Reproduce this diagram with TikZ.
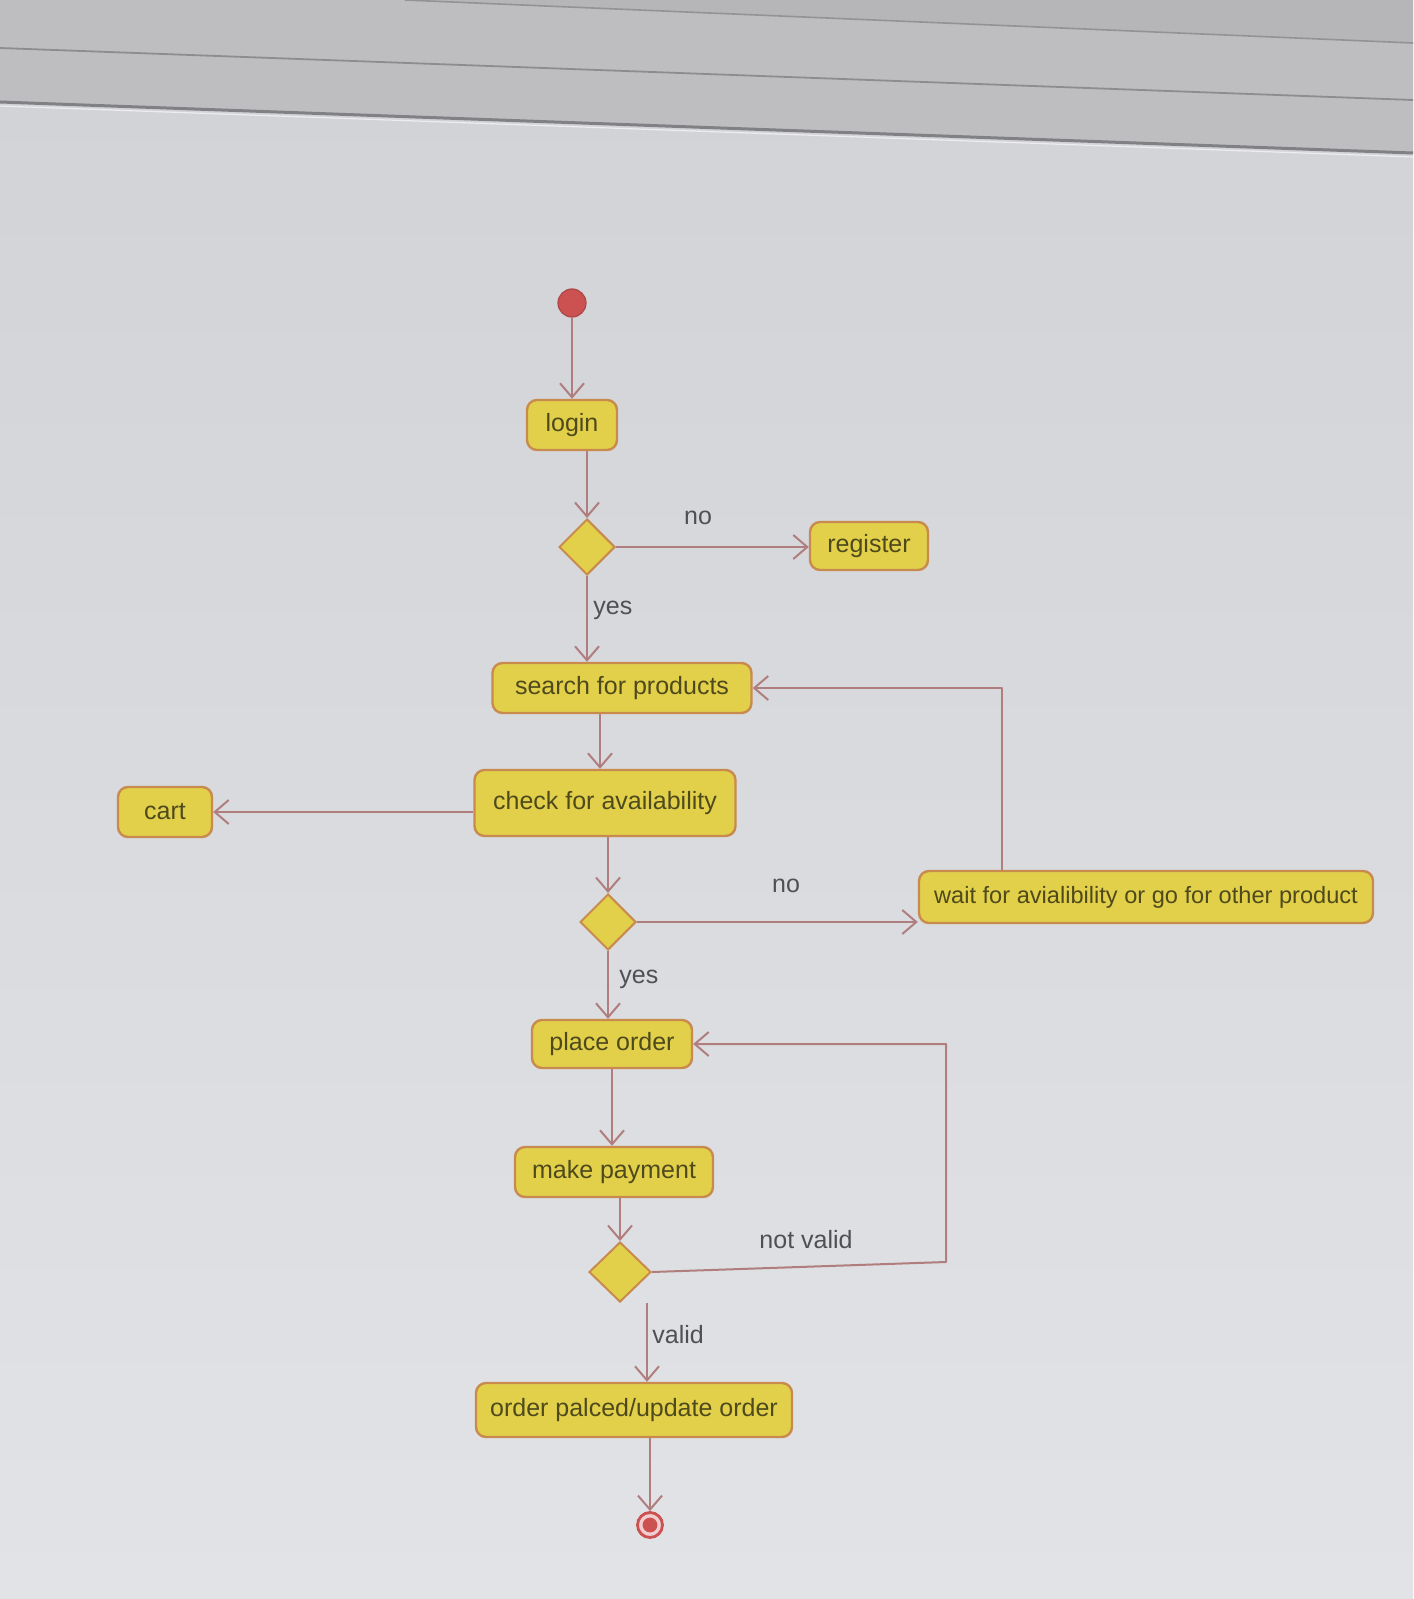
\documentclass[tikz,border=0pt]{standalone}
\usepackage{fontspec}
\setmainfont{Liberation Sans}
\usetikzlibrary{shapes.geometric,arrows.meta,calc}
\definecolor{boxfill}{HTML}{E2D04A}
\definecolor{boxdraw}{HTML}{C98A4E}
\definecolor{flowc}{HTML}{B07E7E}
\definecolor{boxtext}{HTML}{4E4A1C}
\definecolor{labtext}{HTML}{505052}
\definecolor{startred}{HTML}{CC5252}
\definecolor{endring}{HTML}{F2CDD0}
\definecolor{bgtop}{HTML}{D1D2D6}
\definecolor{bgmid}{HTML}{DADBE0}
\definecolor{bgbot}{HTML}{E1E3E7}
\definecolor{bezel}{HTML}{BEBEC1}
\definecolor{bezelline}{HTML}{808085}
\tikzset{
  act/.style={draw=boxdraw, fill=boxfill, line width=1.2pt, rounded corners=5pt,
    inner sep=0pt, text=boxtext, font=\fontsize{12.5}{15}\selectfont, minimum height=25pt},
  dec/.style={diamond, draw=boxdraw, fill=boxfill, line width=1pt, inner sep=0pt,
    minimum width=28pt, minimum height=28pt},
  flow/.style={draw=flowc, line width=1pt, line join=round,
    -{Straight Barb[length=7pt,width=12pt,line width=1pt]}},
  lab/.style={text=labtext, font=\fontsize{12.5}{15}\selectfont, inner sep=0pt},
  startnode/.style={circle, fill=startred, draw=startred!85!black, line width=0.6pt,
    minimum size=14pt, inner sep=0pt},
  endnode/.style={circle, fill=endring, draw=startred, line width=1.4pt,
    minimum size=12.5pt, inner sep=0pt,
    path picture={\fill[startred] (path picture bounding box.center) circle (3.7pt);}},
}
\begin{document}
\begin{tikzpicture}[x=0.5pt,y=-0.5pt]
\useasboundingbox (0,0) rectangle (1413,1599);
% background (photo of a screen)
\shade[top color=bgtop, middle color=bgmid, bottom color=bgbot] (0,0) rectangle (1413,1599);
\fill[bezel] (0,0) -- (1413,0) -- (1413,153) -- (0,102) -- cycle;
\fill[black, opacity=0.04] (0,0) -- (405,0) -- (1413,43) -- (1413,0) -- cycle;
\draw[bezelline!85!white, line width=0.8pt] (405,0) -- (1413,43);
\draw[bezelline!90!white, line width=0.9pt] (0,48) -- (1413,100);
\draw[bezelline, line width=1.5pt] (0,102) -- (1413,153);
\draw[white, opacity=0.6, line width=0.6pt] (0,106) -- (1413,157);

% nodes
\node[startnode] (start) at (572,303) {};
\node[act, minimum width=45pt] (login) at (572,425) {login};
\node[dec] (d1) at (587,547) {};
\node[act, minimum width=59pt, minimum height=24pt] (register) at (869,546) {register};
\node[act, minimum width=129.5pt] (search) at (622,688) {search for products};
\node[act, minimum width=130.5pt, minimum height=33pt] (check) at (605,803) {check for availability};
\node[act, minimum width=47pt] (cart) at (165,812) {cart};
\node[dec] (d2) at (608,922) {};
\node[act, minimum width=227pt, minimum height=26pt, font=\fontsize{11.8}{14}\selectfont] (wait) at (1146,897) {wait for avialibility or go for other product};
\node[act, minimum width=80pt, minimum height=24pt] (place) at (612,1044) {place order};
\node[act, minimum width=99pt] (make) at (614,1172) {make payment};
\node[dec, minimum width=31pt, minimum height=30pt] (d3) at (620,1272) {};
\node[act, minimum width=158pt, minimum height=27pt] (order) at (634,1410) {order palced/update order};
\node[endnode] (end) at (650,1525) {};

% labels
\node[lab] (no1) at (698,518) {no};
\node[lab, anchor=west] (yes1) at (593,610) {yes};
\node[lab] (no2) at (786,886) {no};
\node[lab, anchor=west] (yes2) at (619,979) {yes};
\node[lab] (nvlab) at (806,1240) {not valid};
\node[lab, anchor=west] (valid) at (652,1335) {valid};

% connectors
\draw[flow] (start) -- (login);
\draw[flow] (d1.north |- login.south) -- (d1.north);
\draw[flow] (d1.east) -- (register.west |- d1.east);
\draw[flow] (d1.south) -- (d1.south |- search.north);
\draw[flow] ([xshift=-11pt]search.south) -- ([xshift=-11pt]search.south |- check.north);
\draw[flow] (check.west |- cart.east) -- (cart.east);
\draw[flow] (check.south -| d2.north) -- (d2.north);
\draw[flow] (d2.east) -- (wait.west |- d2.east);
\draw[flow] ([xshift=-72pt]wait.north) |- (search.east);
\draw[flow] (d2.south) -- (d2.south |- place.north);
\draw[flow] (place.south) -- (place.south |- make.north);
\draw[flow] (d3.north |- make.south) -- (d3.north);
\coordinate (nvc) at (946,1262);
\draw[flow] (d3.east) -- (nvc) |- (place.east);
\draw[flow] ([xshift=13.5pt]d3.south) -- ([xshift=13.5pt]d3.south |- order.north);
\draw[flow] (end.north |- order.south) -- (end.north);
\end{tikzpicture}
\end{document}
